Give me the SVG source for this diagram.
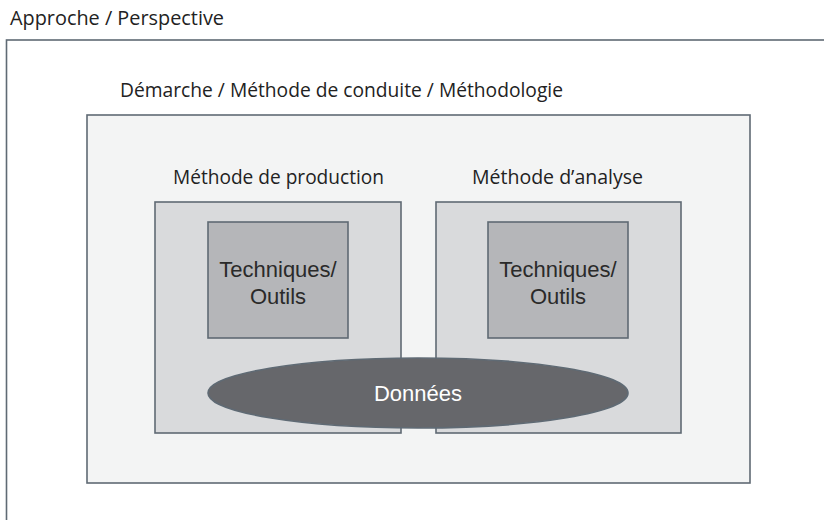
<svg xmlns="http://www.w3.org/2000/svg" width="824" height="520" viewBox="0 0 824 520">
  <style>
    .title { font-family: "Open Sans", "Liberation Sans", sans-serif; font-size: 19.5px; fill: #222; }
    .tool { font-family: "Liberation Sans", Arial, sans-serif; font-size: 22px; fill: #2a2a2a; text-anchor: middle; }
    .frame { stroke: #5f6a74; stroke-width: 1.6; }
  </style>
  <rect width="824" height="520" fill="#ffffff"/>

  <!-- Approche / Perspective -->
  <g id="approche">
    <rect class="frame" x="6.5" y="40" width="830" height="500" fill="#ffffff"/>
    <text class="title" x="10" y="25" textLength="214" lengthAdjust="spacingAndGlyphs">Approche / Perspective</text>
  </g>

  <!-- Démarche / Méthode de conduite / Méthodologie -->
  <g id="demarche">
    <text class="title" x="120" y="97" textLength="443" lengthAdjust="spacingAndGlyphs">Démarche / Méthode de conduite / Méthodologie</text>
    <rect class="frame" x="87" y="115" width="663" height="368" fill="#f3f4f4"/>
  </g>

  <!-- Méthode de production -->
  <g id="production">
    <text class="title" x="173" y="184" textLength="211" lengthAdjust="spacingAndGlyphs">Méthode de production</text>
    <rect class="frame" x="155" y="202" width="246" height="231" fill="#d9dadc"/>
  </g>

  <!-- Méthode d'analyse -->
  <g id="analyse">
    <text class="title" x="472" y="184" textLength="171" lengthAdjust="spacingAndGlyphs">Méthode d’analyse</text>
    <rect class="frame" x="436" y="202" width="245" height="231" fill="#d9dadc"/>
  </g>

  <g id="outils-production">
    <rect class="frame" x="208" y="222" width="140" height="116" fill="#b5b6b9"/>
    <text class="tool" x="278" y="277">Techniques/</text>
    <text class="tool" x="278" y="304">Outils</text>
  </g>

  <g id="outils-analyse">
    <rect class="frame" x="488" y="222" width="140" height="116" fill="#b5b6b9"/>
    <text class="tool" x="558" y="277">Techniques/</text>
    <text class="tool" x="558" y="304">Outils</text>
  </g>

  <g id="donnees">
    <ellipse class="frame" cx="418" cy="393" rx="210" ry="35" fill="#66676b"/>
    <text class="tool" x="418" y="401" style="fill:#ffffff">Données</text>
  </g>

  <g id="connectors"/>
</svg>
